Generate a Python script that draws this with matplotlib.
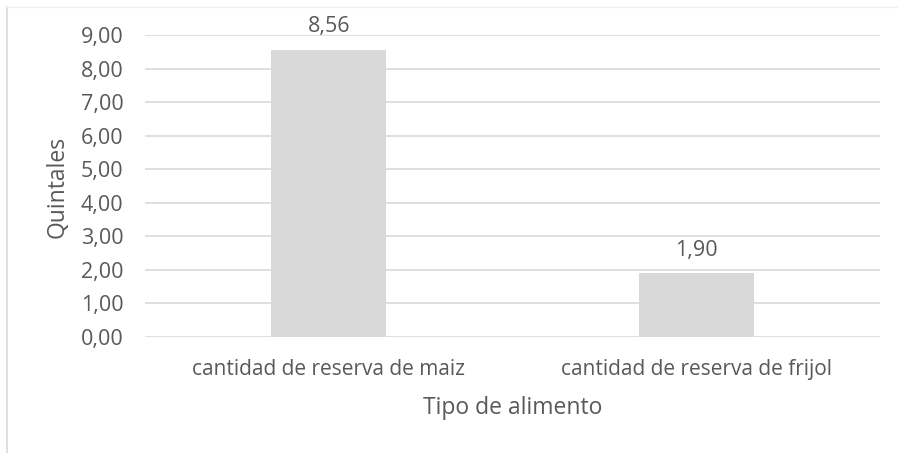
import matplotlib
matplotlib.use("Agg")
import matplotlib.pyplot as plt
from matplotlib.lines import Line2D

categories = ["cantidad de reserva de maiz", "cantidad de reserva de frijol"]
values = [8.56, 1.90]
yticks = [0, 1, 2, 3, 4, 5, 6, 7, 8, 9]

plt.rcParams['font.family'] = ['Open Sans', 'DejaVu Sans']
txt = '#595959'
grid = '#d9d9d9'
W, H = 898, 453

fig = plt.figure(figsize=(W/100, H/100), dpi=100)
ax = fig.add_axes([145/W, 1-337/H, (880-145)/W, (337-35)/H])

x = list(range(len(categories)))
ax.bar(x, values, width=0.313, color='#d9d9d9', zorder=2)
ax.set_xlim(-0.5, 1.5)
ax.set_ylim(0, 9)
ax.set_yticks(yticks)
ax.set_yticklabels([f"{v:.2f}".replace('.', ',') for v in yticks], fontsize=15.5, color=txt)
ax.set_xticks(x)
ax.set_xticklabels(categories, fontsize=15, color=txt)
ax.tick_params(axis='both', length=0)
ax.tick_params(axis='y', pad=15.5)
ax.tick_params(axis='x', pad=16)
ax.grid(axis='y', color=grid, linewidth=1.2, zorder=0)
ax.set_axisbelow(True)
for s in ax.spines.values():
    s.set_visible(False)

for xi, v in zip(x, values):
    ax.annotate(f"{v:.2f}".replace('.', ','), (xi, v), xytext=(0, 16.5), textcoords='offset points',
                ha='center', va='center', fontsize=15.5, color=txt)

fig.text(58/W, 1-187/H, "Quintales", rotation=90, ha='center', va='center', fontsize=16.5, color=txt)
fig.text(513/W, 1-408/H, "Tipo de alimento", ha='center', va='center', fontsize=16.5, color=txt)

fig.add_artist(Line2D([7/W, 7/W], [0, 1-7/H], transform=fig.transFigure, color=grid, linewidth=1.2))
fig.add_artist(Line2D([7/W, 1], [1-7/H, 1-7/H], transform=fig.transFigure, color='#f0f0f0', linewidth=1))

fig.savefig("out.png", dpi=100)
